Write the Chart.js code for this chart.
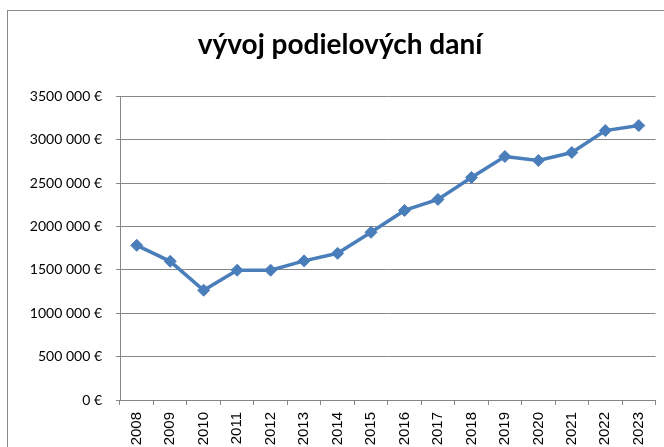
<!DOCTYPE html>
<html>
<head>
<meta charset="utf-8">
<script src="https://cdn.jsdelivr.net/npm/chart.js@4"></script>
<style>
  html, body { margin: 0; padding: 0; background: #ffffff; }
  #wrap { position: relative; width: 664px; height: 447px; }
</style>
</head>
<body>
<div id="wrap"><canvas id="c" width="664" height="447"></canvas></div>
<script>
const titleText = "vývoj podielových daní";
const years = ["2008","2009","2010","2011","2012","2013","2014","2015","2016","2017","2018","2019","2020","2021","2022","2023"];
const values = [1784000, 1600000, 1266000, 1497000, 1497000, 1605000, 1692000, 1934000, 2187000, 2314000, 2567000, 2809000, 2763000, 2855000, 3108000, 3166000];
const yTickValues = [0, 500000, 1000000, 1500000, 2000000, 2500000, 3000000, 3500000];
const yTickLabels = ["0 €", "500 000 €", "1000 000 €", "1500 000 €", "2000 000 €", "2500 000 €", "3000 000 €", "3500 000 €"];

const frame = {
  id: 'frame',
  beforeDraw(chart) {
    const ctx = chart.ctx;
    ctx.save();
    ctx.fillStyle = '#ffffff';
    ctx.fillRect(0, 0, chart.width, chart.height);
    ctx.strokeStyle = '#898989';
    ctx.lineWidth = 1;
    ctx.strokeRect(7.5, 10.5, 720, 520);
    ctx.restore();
  }
};

new Chart(document.getElementById('c'), {
  type: 'line',
  data: {
    labels: years,
    datasets: [{
      data: values,
      borderColor: '#4a7ebb',
      backgroundColor: '#4a7ebb',
      borderWidth: 3.5,
      pointStyle: 'rectRot',
      pointRadius: 6,
      pointBorderWidth: 1,
      pointBackgroundColor: '#4a7ebb',
      pointBorderColor: '#4a7ebb',
      tension: 0,
      fill: false
    }]
  },
  options: {
    responsive: false,
    animation: false,
    layout: { padding: { left: 23, right: 7, top: 10, bottom: 0 } },
    plugins: {
      legend: { display: false },
      tooltip: { enabled: false },
      title: {
        display: true,
        text: titleText,
        color: '#000000',
        font: { family: 'Lato', size: 28, weight: 'bold', lineHeight: 1.2 },
        padding: { top: 18, bottom: 35 }
      }
    },
    scales: {
      x: {
        offset: true,
        grid: {
          offset: true,
          drawOnChartArea: false,
          drawTicks: true,
          tickLength: 5,
          color: '#868686',
          lineWidth: 1
        },
        border: { display: true, color: '#868686', width: 1 },
        ticks: {
          autoSkip: false,
          minRotation: 90,
          maxRotation: 90,
          padding: 7,
          color: '#000000',
          font: { family: 'Liberation Sans', size: 15 }
        },
        afterFit(scale) { scale.height = 47; }
      },
      y: {
        min: 0,
        max: 3500000,
        afterBuildTicks(scale) { scale.ticks = yTickValues.map(v => ({ value: v })); },
        grid: {
          drawTicks: true,
          tickLength: 4,
          color: '#868686',
          lineWidth: 1
        },
        border: { display: true, color: '#868686', width: 1 },
        ticks: {
          padding: 14,
          color: '#000000',
          font: { family: 'Lato', size: 14 },
          callback(value) {
            const i = yTickValues.indexOf(value);
            return i >= 0 ? yTickLabels[i] : '';
          }
        },
        afterFit(scale) { scale.width = 97; }
      }
    }
  },
  plugins: [frame]
});
</script>
</body>
</html>
